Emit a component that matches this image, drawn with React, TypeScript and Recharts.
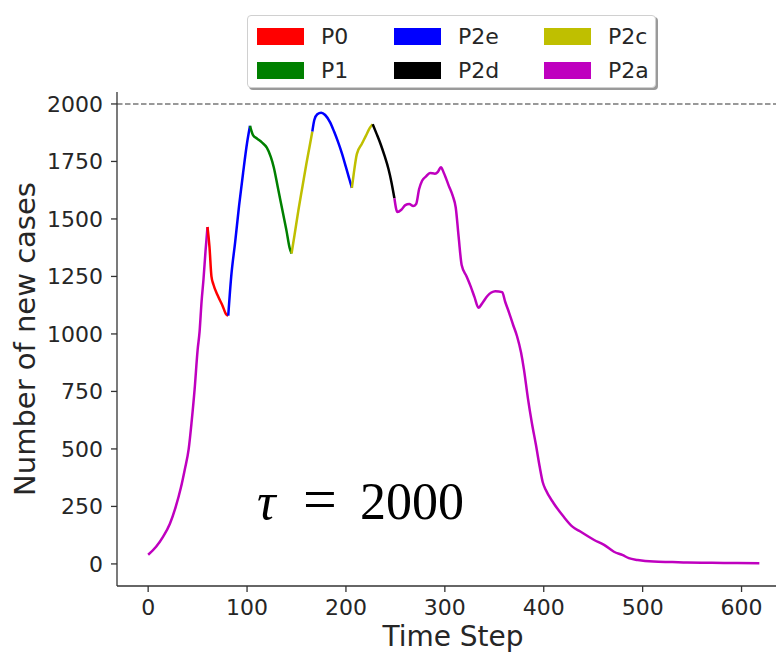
import { LineChart, Line, XAxis, YAxis, ReferenceLine } from 'recharts'

// colours follow matplotlib's single-letter codes
const RED = '#ff0000'
const GREEN = '#008000'
const BLUE = '#0000ff'
const BLACK = '#000000'
const YELLOW = '#bfbf00'
const MAGENTA = '#bf00bf'

// [time step, new cases], one array per coloured stretch of the curve
const p2aRise = [
  [0, 40], [8, 75], [15, 118], [22, 175], [28, 250], [33, 330], [37, 410], [41, 500],
  [44, 620], [47, 760], [50, 930], [52, 1010], [54, 1140], [56, 1240], [58, 1360], [60, 1465],
]
const p0 = [[60, 1465], [62, 1380], [64, 1250], [66, 1215], [70, 1170], [75, 1125], [79, 1085], [81, 1080]]
const p2eFirst = [[81, 1080], [84, 1250], [88, 1400], [92, 1560], [96, 1700], [100, 1830], [103, 1905]]
const p1 = [
  [103, 1905], [106, 1865], [110, 1850], [115, 1833], [120, 1810], [124, 1770], [127, 1725],
  [131, 1640], [136, 1532], [140, 1446], [143, 1375], [145, 1350],
]
const p2cFirst = [[145, 1350], [148, 1430], [152, 1540], [156, 1640], [160, 1740], [163, 1810], [166, 1880]]
const p2eSecond = [
  [166, 1880], [168, 1930], [171, 1955], [175, 1962], [179, 1952], [184, 1920], [188, 1880],
  [192, 1835], [196, 1784], [200, 1725], [203, 1680], [206, 1635],
]
const p2cSecond = [[206, 1635], [208, 1700], [211, 1782], [216, 1826], [220, 1860], [224, 1895], [227, 1912]]
const p2d = [[227, 1912], [231, 1870], [235, 1826], [239, 1775], [243, 1717], [246, 1660], [249, 1590]]
const p2aFall = [
  [249, 1590], [252, 1530], [256, 1540], [260, 1560], [264, 1565], [268, 1556], [271, 1565],
  [274, 1630], [277, 1666], [281, 1685], [285, 1700], [290, 1697], [293, 1705], [296, 1725],
  [299, 1700], [304, 1644], [308, 1600], [311, 1550], [314, 1420], [317, 1300], [322, 1250],
  [326, 1208], [330, 1160], [334, 1114], [338, 1135], [343, 1165], [347, 1180], [351, 1186],
  [358, 1182], [361, 1140], [365, 1092], [369, 1040], [373, 990], [377, 920], [380, 845],
  [384, 720], [388, 613], [392, 520], [396, 420], [399, 355], [402, 322], [410, 264],
  [420, 206], [429, 162], [437, 141], [451, 104], [461, 83], [471, 53], [480, 38], [486, 25],
  [495, 17], [511, 10], [530, 8], [545, 6], [570, 5], [595, 4], [618, 3],
]

const xTicks = [0, 100, 200, 300, 400, 500, 600]
const yTicks = [0, 250, 500, 750, 1000, 1250, 1500, 1750, 2000]
const capacity = 2000

// legend entries in matplotlib's column-major order (ncol=3)
const legendItems = [
  { name: 'P0', color: RED },
  { name: 'P1', color: GREEN },
  { name: 'P2e', color: BLUE },
  { name: 'P2d', color: BLACK },
  { name: 'P2c', color: YELLOW },
  { name: 'P2a', color: MAGENTA },
]

const segments = [
  { key: 'p2aRise', pts: p2aRise, color: MAGENTA },
  { key: 'p0', pts: p0, color: RED },
  { key: 'p2eFirst', pts: p2eFirst, color: BLUE },
  { key: 'p1', pts: p1, color: GREEN },
  { key: 'p2cFirst', pts: p2cFirst, color: YELLOW },
  { key: 'p2eSecond', pts: p2eSecond, color: BLUE },
  { key: 'p2cSecond', pts: p2cSecond, color: YELLOW },
  { key: 'p2d', pts: p2d, color: BLACK },
  { key: 'p2aFall', pts: p2aFall, color: MAGENTA },
]

const FONT = '"DejaVu Sans", sans-serif'
const INK = '#262626'
const SPINE = '#333'
const tickStyle = { fill: INK, fontSize: 22, fontFamily: FONT }

function Legend() {
  return (
    <div
      style={{
        position: 'absolute',
        left: 247,
        top: 15,
        width: 409,
        height: 73,
        boxSizing: 'border-box',
        border: '1px solid #d0d0d0',
        borderRadius: 4,
        background: '#fff',
        boxShadow: '2px 2px 0 #9a9a9a',
        display: 'grid',
        gridTemplateColumns: '137px 150px 110px',
        gridTemplateRows: '34px 34px',
        gridAutoFlow: 'column',
        padding: '3px 0 0 9px',
        fontFamily: FONT,
        fontSize: 22,
        color: INK,
      }}
    >
      {legendItems.map((it) => (
        <div key={it.name} style={{ display: 'flex', alignItems: 'center' }}>
          <span style={{ width: 47, height: 17, background: it.color, marginRight: 17, display: 'inline-block' }} />
          <span>{it.name}</span>
        </div>
      ))}
    </div>
  )
}

export default function App() {
  return (
    <div style={{ position: 'fixed', left: 0, top: 0, width: 776, height: 653, overflow: 'hidden', background: '#fff' }}>
      <LineChart width={800} height={653} margin={{ top: 92, right: 10, bottom: 0, left: 0 }}>
        <XAxis
          dataKey="t"
          type="number"
          domain={[-31.5, 649]}
          ticks={xTicks}
          allowDataOverflow
          height={67}
          tickSize={6}
          tickMargin={7}
          tick={tickStyle}
          axisLine={{ stroke: SPINE, strokeWidth: 1.3 }}
          tickLine={{ stroke: SPINE, strokeWidth: 1.3 }}
        />
        <XAxis
          xAxisId="top"
          orientation="top"
          type="number"
          domain={[-31.5, 649]}
          height={0}
          tick={false}
          tickLine={false}
          axisLine={{ stroke: SPINE, strokeWidth: 1.3 }}
        />
        <YAxis
          type="number"
          domain={[-96, 2052]}
          ticks={yTicks}
          allowDataOverflow
          width={117}
          tickSize={6}
          tickMargin={8}
          tick={tickStyle}
          axisLine={{ stroke: SPINE, strokeWidth: 1.3 }}
          tickLine={{ stroke: SPINE, strokeWidth: 1.3 }}
        />
        <ReferenceLine y={capacity} stroke="#999" strokeWidth={2} strokeDasharray="5.5 2.5" />
        {segments.map((s) => (
          <Line
            key={s.key}
            data={s.pts.map(([t, v]) => ({ t, v }))}
            dataKey="v"
            type="monotone"
            stroke={s.color}
            strokeWidth={2.5}
            dot={false}
            activeDot={false}
            isAnimationActive={false}
          />
        ))}
      </LineChart>
      <svg width={776} height={653} style={{ position: 'absolute', left: 0, top: 0, pointerEvents: 'none' }}>
        <text x={453} y={646} textAnchor="middle" fontFamily={FONT} fontSize={28} fill={INK}>
          Time Step
        </text>
        <text
          x={35}
          y={339}
          transform="rotate(-90 35 339)"
          textAnchor="middle"
          fontFamily={FONT}
          fontSize={29}
          fill={INK}
        >
          Number of new cases
        </text>
        <text y={519} fontFamily='"Liberation Serif", serif' fontSize={52} fill="#000">
          <tspan x={257} fontStyle="italic">τ</tspan>
          <tspan x={303} fontSize={60}>=</tspan>
          <tspan x={360}>2000</tspan>
        </text>
      </svg>
      <Legend />
    </div>
  )
}
